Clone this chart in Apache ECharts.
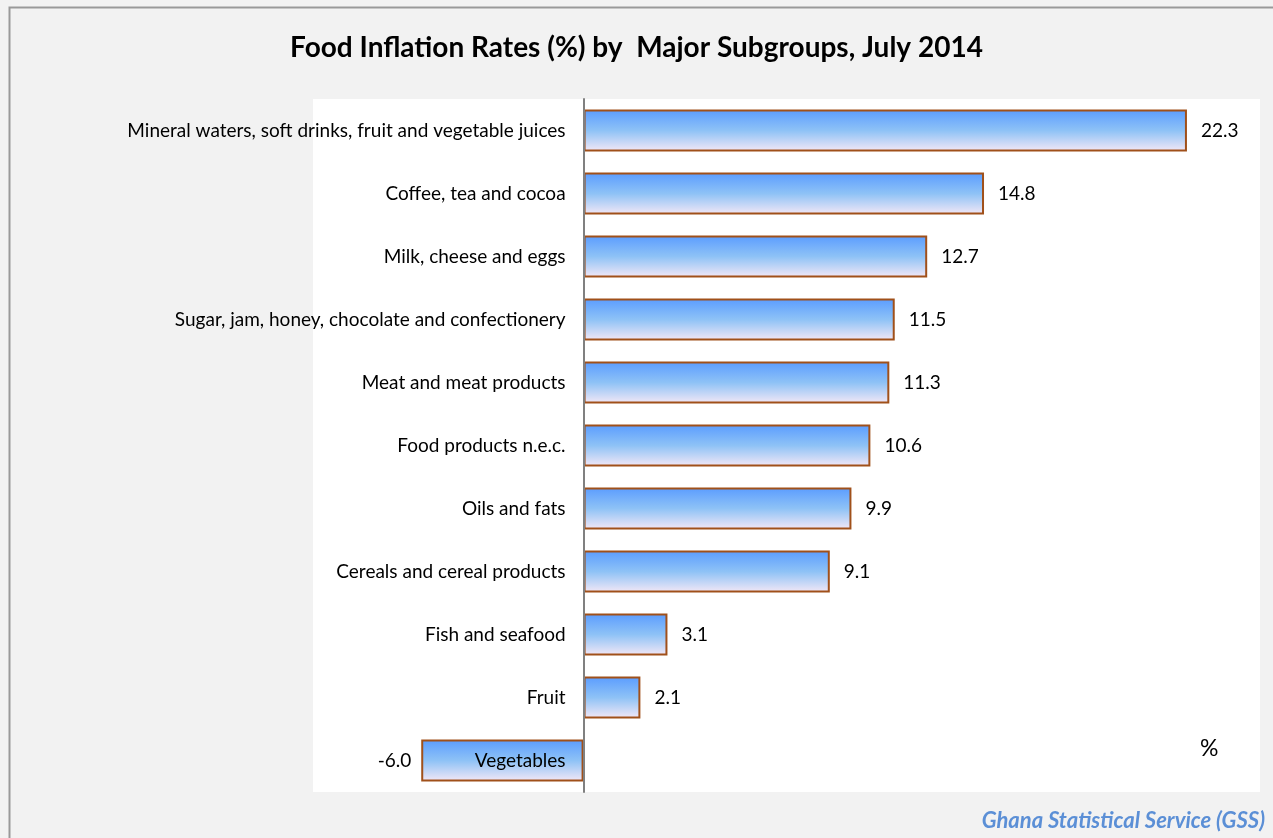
<!DOCTYPE html>
<html>
<head>
<meta charset="utf-8">
<script src="https://cdn.jsdelivr.net/npm/echarts@6/dist/echarts.min.js"></script>
<style>
	html, body { margin: 0; padding: 0; background: #f2f2f2; }
	#chart { width: 1273px; height: 838px; }
</style>
</head>
<body>
<div id="chart"></div>
<script>
	// categories from top to bottom, as in the picture
	var categories = [
		'Mineral waters, soft drinks, fruit and vegetable juices',
		'Coffee, tea and cocoa',
		'Milk, cheese and eggs',
		'Sugar, jam, honey, chocolate and confectionery',
		'Meat and meat products',
		'Food products n.e.c.',
		'Oils and fats',
		'Cereals and cereal products',
		'Fish and seafood',
		'Fruit',
		'Vegetables'
	];
	var rates = [22.3, 14.8, 12.7, 11.5, 11.3, 10.6, 9.9, 9.1, 3.1, 2.1, -6.0];

	var font = 'Lato';
	var gridLeft = 313, gridRight = 13;
	var xMin = -10, xMax = 25;
	//distance from the grid edge to the zero line, so the category axis sits on zero
	var zeroOffset = (1273 - gridLeft - gridRight) * (0 - xMin) / (xMax - xMin);

	//negative value gets its label on the left
	var barData = rates.map(function(v){
		return {
			value: v,
			label: { position: v < 0 ? 'left' : 'right', distance: v < 0 ? 10 : 14 }
		};
	});

	var myChart = echarts.init(document.getElementById('chart'));
	var option = {
		backgroundColor: '#f2f2f2',
		animation: false,
		title: {
			text: 'Food Inflation Rates (%) by  Major Subgroups, July 2014',
			left: 'center',
			top: 29,
			textStyle: { fontFamily: font, fontSize: 28, fontWeight: 'bold', color: '#000' }
		},
		grid: {
			left: gridLeft, right: gridRight, top: 99, bottom: 46,
			outerBoundsMode: 'none',
			containLabel: false,
			show: true,
			backgroundColor: '#ffffff',
			borderWidth: 0
		},
		xAxis: {
			type: 'value',
			min: xMin,
			max: xMax,
			show: false,
			splitLine: { show: false }
		},
		yAxis: {
			type: 'category',
			data: categories,
			inverse: true,
			offset: -zeroOffset,
			axisLine: { onZero: false, lineStyle: { color: '#808080', width: 2 } },
			axisTick: { show: false },
			axisLabel: { fontFamily: font, fontSize: 19, color: '#000', margin: 18 },
			z: 5
		},
		series: [{
			type: 'bar',
			data: barData,
			barWidth: 42,
			itemStyle: {
				color: new echarts.graphic.LinearGradient(0, 0, 0, 1, [
					{ offset: 0, color: '#5a9cff' },
					{ offset: 0.5, color: '#8ec2f6' },
					{ offset: 1, color: '#f4e8f6' }
				]),
				borderColor: '#a0501a',
				borderWidth: 2
			},
			label: {
				show: true,
				fontFamily: font,
				fontSize: 19,
				color: '#000',
				formatter: function(p){ return p.value.toFixed(1); }
			}
		}],
		graphic: [
			{
				type: 'rect',
				shape: { x: 9.5, y: 7.5, width: 1300, height: 900 },
				style: { fill: null, stroke: '#999999', lineWidth: 2 },
				silent: true
			},
			{
				type: 'text',
				left: 1200, top: 737,
				style: { text: '%', fontFamily: font, fontSize: 23, fill: '#000' }
			},
			{
				type: 'text',
				right: 8, top: 810,
				style: {
					text: 'Ghana Statistical Service (GSS)',
					fontFamily: font, fontSize: 22, fontWeight: 'bold', fontStyle: 'italic',
					fill: '#5b8fd6'
				}
			}
		]
	};
	myChart.setOption(option);
</script>
</body>
</html>
